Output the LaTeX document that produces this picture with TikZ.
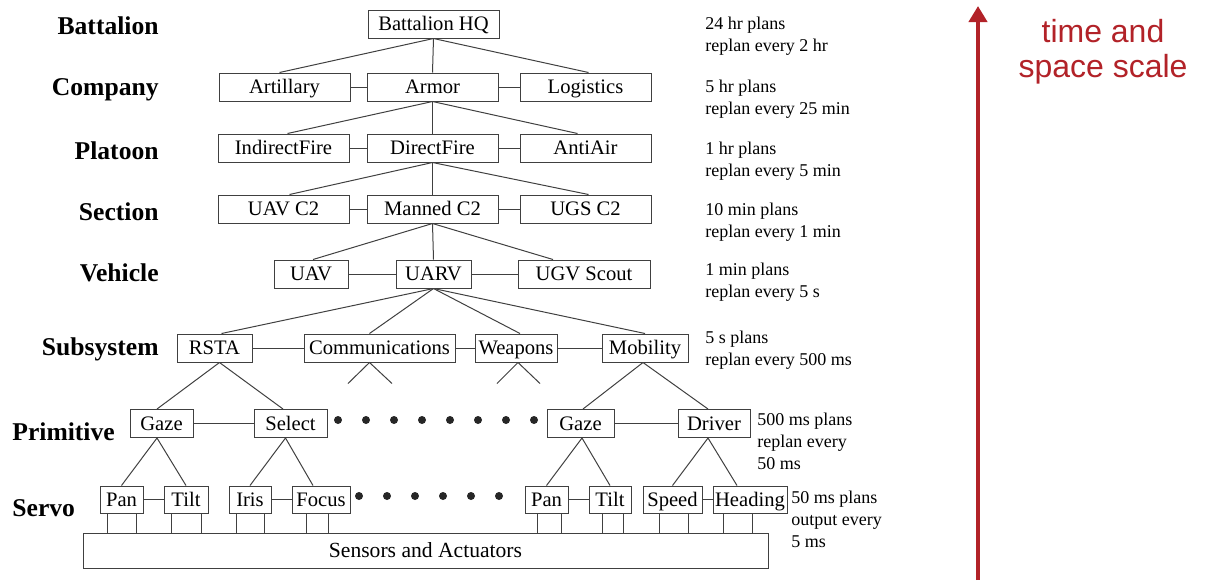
\documentclass[tikz,border=0pt]{standalone}
\usepackage{fontspec}
\setmainfont{Liberation Serif}
\newfontfamily\redsans{Liberation Sans}
\usetikzlibrary{arrows.meta,calc}
\definecolor{scalered}{RGB}{178,34,40}
\tikzset{
  box/.style={draw=black!75, line width=0.5pt, inner sep=0pt, minimum height=14pt,
    minimum width=#1, text height=8.6pt, text depth=2pt, font=\fontsize{10.3}{12}\selectfont},
  box/.default=65.5pt,
  level/.style={anchor=east, inner sep=0pt, font=\fontsize{12.8}{15}\bfseries},
  rate/.style={anchor=west, inner sep=0pt, align=left, font=\fontsize{9}{11}\selectfont},
  link/.style={draw=black!75, line width=0.5pt}
}
\begin{document}
\begin{tikzpicture}[x=0.5pt, y=-0.5pt]
    \useasboundingbox (0,0) rectangle (1205,580);

    \node[level] (lbattalion) at (159,26) {Battalion};
    \node[level] (lcompany) at (159,90) {Company};
    \node[level] (lplatoon) at (159,151) {Platoon};
    \node[level] (lsection) at (159,212) {Section};
    \node[level] (lvehicle) at (159,273) {Vehicle};
    \node[level] (lsubsystem) at (159,349) {Subsystem};
    \node[level, anchor=west] (lprimitive) at (12,432) {Primitive};
    \node[level, anchor=west] (lservo) at (12,508) {Servo};

    \node[box] (hq) at (433.5,24) {Battalion HQ};
    \node[box] (artillary) at (284.5,87) {Artillary};
    \node[box] (armor) at (432.5,87) {Armor};
    \node[box] (logistics) at (585.5,87) {Logistics};
    \node[box] (indirect) at (283.5,148) {IndirectFire};
    \node[box] (direct) at (432.5,148) {DirectFire};
    \node[box] (antiair) at (585.5,148) {AntiAir};
    \node[box] (uavc2) at (283.5,209) {UAV C2};
    \node[box] (mannedc2) at (432.5,209) {Manned C2};
    \node[box] (ugsc2) at (585.5,209) {UGS C2};
    \node[box=37pt] (uav) at (311,274) {UAV};
    \node[box=37.5pt] (uarv) at (433.5,274) {UARV};
    \node[box=66pt] (ugv) at (584,274) {UGV Scout};
    \node[box=37.5pt] (rsta) at (214.5,348) {RSTA};
    \node[box=75.5pt] (comm) at (379.5,348) {Communications};
    \node[box=41pt] (weapons) at (516,348) {Weapons};
    \node[box=43pt] (mobility) at (645,348) {Mobility};
    \node[box=31.5pt] (gaze) at (161.5,423.5) {Gaze};
    \node[box=36.5pt] (select) at (290.5,423.5) {Select};
    \node[box=33.5pt] (gazeb) at (580.5,423.5) {Gaze};
    \node[box=36pt] (driver) at (714,423.5) {Driver};
    \node[box=21.5pt, minimum height=13.5pt] (pan) at (121.5,499.5) {Pan};
    \node[box=22pt, minimum height=13.5pt] (tilt) at (186,499.5) {Tilt};
    \node[box=21pt, minimum height=13.5pt] (iris) at (250,499.5) {Iris};
    \node[box=29pt, minimum height=13.5pt] (focus) at (321,499.5) {Focus};
    \node[box=21.5pt, minimum height=13.5pt] (panb) at (546.5,499.5) {Pan};
    \node[box=21pt, minimum height=13.5pt] (tiltb) at (610,499.5) {Tilt};
    \node[box=29.5pt, minimum height=13.5pt] (speed) at (672.5,499.5) {Speed};
    \node[box=37pt, minimum height=13.5pt] (heading) at (750,499.5) {Heading};
    \node[box=342.5pt, minimum height=17.5pt, font=\fontsize{10.8}{12}\selectfont] (sa) at (425.5,550.5) {Sensors and Actuators};

    \draw[link] (hq.south) -- ($(artillary.north)+(-5,0)$);
    \draw[link] (hq.south) -- (armor.north);
    \draw[link] (hq.south) -- ($(logistics.north)+(3,0)$);
    \draw[link] (armor.south) -- ($(indirect.north)+(4,0)$);
    \draw[link] (armor.south) -- (direct.north);
    \draw[link] (armor.south) -- ($(antiair.north)+(-8,0)$);
    \draw[link] (direct.south) -- ($(uavc2.north)+(6,0)$);
    \draw[link] (direct.south) -- (mannedc2.north);
    \draw[link] (direct.south) -- ($(ugsc2.north)+(3,0)$);
    \draw[link] (mannedc2.south) -- ($(uav.north)+(2,0)$);
    \draw[link] (mannedc2.south) -- (uarv.north);
    \draw[link] (mannedc2.south) -- ($(ugv.north)+(-31,0)$);
    \draw[link] (uarv.south) -- ($(rsta.north)+(7,0)$);
    \draw[link] (uarv.south) -- ($(comm.north)+(-10,0)$);
    \draw[link] (uarv.south) -- ($(weapons.north)+(4,0)$);
    \draw[link] (uarv.south) -- (mobility.north);
    \draw[link] ($(rsta.south)+(5,0)$) -- ($(gaze.north)+(-4.5,0)$);
    \draw[link] ($(rsta.south)+(5,0)$) -- ($(select.north)+(-7.5,0)$);
    \draw[link] ($(mobility.south)+(-2,0)$) -- ($(gazeb.north)+(2.5,0)$);
    \draw[link] ($(mobility.south)+(-2,0)$) -- ($(driver.north)+(-6,0)$);
    \draw[link] ($(gaze.south)+(-4.5,0)$) -- (pan.north);
    \draw[link] ($(gaze.south)+(-4.5,0)$) -- (tilt.north);
    \draw[link] ($(select.south)+(-5,0)$) -- (iris.north);
    \draw[link] ($(select.south)+(-5,0)$) -- ($(focus.north)+(-8,0)$);
    \draw[link] ($(gazeb.south)+(1.5,0)$) -- (panb.north);
    \draw[link] ($(gazeb.south)+(1.5,0)$) -- (tiltb.north);
    \draw[link] ($(driver.south)+(-6,0)$) -- (speed.north);
    \draw[link] ($(driver.south)+(-6,0)$) -- ($(heading.north)+(-13,0)$);

    \draw[link] ($(comm.south)+(-31.5,21)$) -- ($(comm.south)+(-10,0)$) -- ($(comm.south)+(12.5,21)$);
    \draw[link] ($(weapons.south)+(-19,21)$) -- ($(weapons.south)+(2,0)$) -- ($(weapons.south)+(24,21)$);

    \foreach \a/\b in {artillary/armor, armor/logistics, indirect/direct, direct/antiair,
        uavc2/mannedc2, mannedc2/ugsc2, uav/uarv, uarv/ugv, rsta/comm, comm/weapons,
        weapons/mobility, gaze/select, gazeb/driver, pan/tilt, iris/focus, panb/tiltb, speed/heading}
        \draw[link] (\a) -- (\b);

    \foreach \s/\p/\q in {pan/107/136, tilt/171/201, iris/236/264, focus/306/328,
        panb/537/561, tiltb/602/623, speed/659/688, heading/723/752} {
        \draw[link] (\p,0 |- \s.south) -- (\p,0 |- sa.north);
        \draw[link] (\q,0 |- \s.south) -- (\q,0 |- sa.north);
    }

    \foreach \x in {338,366,...,534}
        \fill[black!85] (\x,420) circle (2pt);
    \foreach \x in {359,387,...,499}
        \fill[black!85] (\x,496) circle (2pt);

    \node[rate] (rbattalion) at (705,36.5) {24 hr plans\\replan every 2 hr};
    \node[rate] (rcompany) at (705,99) {5 hr plans\\replan every 25 min};
    \node[rate] (rplatoon) at (705,161) {1 hr plans\\replan every 5 min};
    \node[rate] (rsection) at (705,222.5) {10 min plans\\replan every 1 min};
    \node[rate] (rvehicle) at (705,282.5) {1 min plans\\replan every 5 s};
    \node[rate] (rsubsystem) at (705,350.5) {5 s plans\\replan every 500 ms};
    \node[rate] (rprimitive) at (757,441) {500 ms plans\\replan every\\50 ms};
    \node[rate] (rservo) at (791,519) {50 ms plans\\output every\\5 ms};

    \coordinate (abase) at (978,580);
    \coordinate (atip) at (978,6);
    \draw[-{Triangle[length=8pt,width=9pt]}, line width=2pt, scalered] (abase) -- (atip);
    \node[font=\redsans\fontsize{16}{17.5}\selectfont, text=scalered, align=center] (scalelabel)
        at (1103,52) {time and\\space scale};
\end{tikzpicture}
\end{document}
